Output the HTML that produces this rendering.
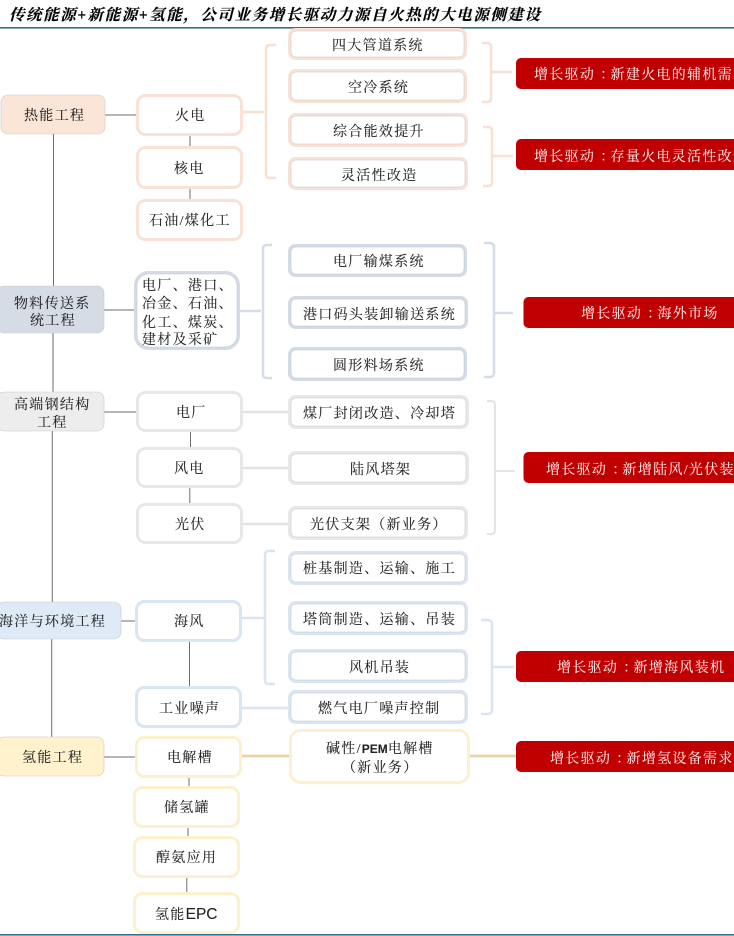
<!DOCTYPE html>
<html lang="zh">
<head>
<meta charset="utf-8">
<title>传统能源+新能源+氢能</title>
<style>
html,body{margin:0;padding:0;background:#fff;width:734px;height:936px;overflow:hidden}
svg{display:block;filter:blur(.35px)}
text{font-family:"Liberation Serif","Noto Serif CJK SC",serif;font-size:14px;letter-spacing:1.3px;fill:#222;stroke:#333;stroke-width:.12px}
.t{font-family:"Liberation Serif","Noto Serif CJK SC",serif;font-size:15.5px;font-weight:700;font-style:italic;fill:#000;stroke:#000;stroke-width:.15px;letter-spacing:0}
.r text{fill:#fbeaea;stroke:#fbeaea;stroke-width:.08px}
.e{font-family:"Liberation Sans",sans-serif;font-size:15.5px;letter-spacing:0}
.b rect{fill:#fff;stroke-width:3}
.in rect{fill:none;stroke:#c4c4c4;stroke-width:.5}
.br path{fill:none}
</style>
</head>
<body>
<svg width="734" height="936" viewBox="0 0 734 936" xmlns="http://www.w3.org/2000/svg">
<text class="t" x="9" y="20" textLength="531" lengthAdjust="spacing">传统能源+新能源+氢能，公司业务增长驱动力源自火热的大电源侧建设</text>
<rect x="0" y="27" width="734" height="1.6" fill="#2f6f8f"/>
<rect x="0" y="934" width="734" height="1.6" fill="#2f6f8f"/>

<!-- dark connectors -->
<g stroke="#6e6e6e" stroke-width="1" fill="none">
<path d="M53.500 134V286M53 333V392M52.300 431V602M51.700 639V737"/>
<path d="M105 115H136M104 310H135M104 412H137M121 621H136M104 757H136"/>
<path d="M190 136V147M190 189V200M190.500 432V447M189.800 488V503M189.500 642V687M189 778V787M188 828V837M186.800 878V893"/>
</g>

<!-- light connectors -->
<g fill="none" stroke-width="2.500">
<path stroke="#f8e0d2" d="M243 112H264"/>
<path stroke="#d6dde8" d="M240 311H261"/>
<path stroke="#e4e4e4" d="M243 412H288M243 468H288M243 524H288"/>
<path stroke="#d9e5f2" d="M242 618H264M242 708H288"/>
</g>
<path d="M242 756H289M470 756H516" stroke="#f5e2b0" stroke-width="3" fill="none"/>
<path d="M242 756H289M470 756H516" stroke="#b9a98a" stroke-width=".5" fill="none"/>

<!-- braces -->
<g class="br">
<g stroke="#f8e0d2" stroke-width="2.500">
<path d="M276 45H270Q266 45 266 49V174Q266 178 270 178H276"/>
<path d="M482 43H487Q491 43 491 47V98Q491 102 487 102H482M491 72H512"/>
<path d="M483 127H488Q492 127 492 131V182Q492 186 488 186H483M492 156H513"/>
</g>
<g stroke="#d6dde8" stroke-width="2.500">
<path d="M272 245H267Q263 245 263 249V374Q263 378 267 378H272"/>
<path d="M484 243H489Q494 243 494 247V373Q494 377 489 377H484M494 313H513"/>
</g>
<g stroke="#e4e4e4" stroke-width="2">
<path d="M487 401H491Q495 401 495 405V530Q495 534 491 534H487M495 471H515"/>
</g>
<g stroke="#d9e5f2" stroke-width="2.500">
<path d="M275 551H269Q265 551 265 555V680Q265 684 269 684H275"/>
<path d="M481 620H487Q492 620 492 624V710Q492 714 487 714H481M492 667H514"/>
</g>
</g>

<!-- level-1 boxes -->
<g stroke="#c9c9c9" stroke-width=".6">
<rect x="1" y="95" width="104" height="39" rx="7" fill="#fbe5d6"/>
<rect x="-3" y="286" width="107" height="47" rx="7" fill="#d6dce5"/>
<rect x="-3" y="392" width="107" height="39" rx="7" fill="#ededed"/>
<rect x="-3" y="602" width="124" height="37" rx="7" fill="#deebf7"/>
<rect x="-3" y="737" width="107" height="39" rx="7" fill="#fff2cc"/>
</g>

<!-- orange -->
<g class="b" stroke="#f9e2d5">
<rect x="137.500" y="95.500" width="104" height="39" rx="8"/>
<rect x="137.500" y="147.500" width="104" height="40" rx="8"/>
<rect x="137.500" y="200.500" width="104" height="39" rx="8"/>
<rect x="289.500" y="29.500" width="176" height="29" rx="6"/>
<rect x="289.500" y="70.500" width="176" height="31" rx="6"/>
<rect x="289.500" y="114.500" width="177" height="31" rx="6"/>
<rect x="289.500" y="158.500" width="177" height="30" rx="6"/>
</g>
<!-- blue-grey -->
<g class="b" stroke="#d3dbe6">
<rect x="135.500" y="272.500" width="103" height="76" rx="13"/>
<rect x="289.500" y="245.500" width="176" height="30" rx="6"/>
<rect x="289.500" y="297.500" width="177" height="30" rx="6"/>
<rect x="289.500" y="348.500" width="176" height="31" rx="6"/>
</g>
<!-- grey -->
<g class="b" stroke="#e8e8e8">
<rect x="137.500" y="392.500" width="104" height="38" rx="8"/>
<rect x="137.500" y="448.500" width="104" height="38" rx="8"/>
<rect x="137.500" y="504.500" width="104" height="38" rx="8"/>
<rect x="289.500" y="396.500" width="178" height="31" rx="6"/>
<rect x="289.500" y="452.500" width="178" height="31" rx="6"/>
<rect x="289.500" y="507.500" width="177" height="31" rx="6"/>
</g>
<!-- blue -->
<g class="b" stroke="#d9e5f2">
<rect x="136.500" y="601.500" width="104" height="39" rx="8"/>
<rect x="136.500" y="687.500" width="104" height="39" rx="8"/>
<rect x="289.500" y="552.500" width="177" height="31" rx="6"/>
<rect x="289.500" y="602.500" width="177" height="31" rx="6"/>
<rect x="289.500" y="650.500" width="177" height="31" rx="6"/>
<rect x="289.500" y="691.500" width="177" height="31" rx="6"/>
</g>
<!-- yellow -->
<g class="b" stroke="#fdf0cf">
<rect x="136.500" y="737.500" width="104" height="39" rx="8"/>
<rect x="134.500" y="787.500" width="104" height="39" rx="8"/>
<rect x="134.500" y="837.500" width="104" height="39" rx="8"/>
<rect x="134.500" y="893.500" width="104" height="39" rx="8"/>
<rect x="290.500" y="730.500" width="178" height="52" rx="10"/>
</g>

<!-- thin inner outlines on the second-column and detail boxes -->
<g class="in">
<rect x="291" y="31" width="173" height="26" rx="5"/>
<rect x="291" y="72" width="173" height="28" rx="5"/>
<rect x="291" y="116" width="174" height="28" rx="5"/>
<rect x="291" y="160" width="174" height="27" rx="5"/>
<rect x="137" y="274" width="100" height="73" rx="12"/>
<rect x="291" y="247" width="173" height="27" rx="5"/>
<rect x="291" y="299" width="174" height="27" rx="5"/>
<rect x="291" y="350" width="173" height="28" rx="5"/>
<rect x="291" y="398" width="175" height="28" rx="5"/>
<rect x="291" y="454" width="175" height="28" rx="5"/>
<rect x="291" y="509" width="174" height="28" rx="5"/>
<rect x="291" y="554" width="174" height="28" rx="5"/>
<rect x="291" y="604" width="174" height="28" rx="5"/>
<rect x="291" y="652" width="174" height="28" rx="5"/>
<rect x="291" y="693" width="174" height="28" rx="5"/>
</g>

<!-- red -->
<g fill="#c00000">
<rect x="516" y="58" width="230" height="31" rx="5"/>
<rect x="516" y="139" width="230" height="31" rx="5"/>
<rect x="523.500" y="297" width="230" height="31" rx="5"/>
<rect x="523.500" y="452" width="230" height="31" rx="5"/>
<rect x="516" y="651" width="230" height="31" rx="5"/>
<rect x="516" y="741" width="230" height="31" rx="5"/>
</g>

<!-- labels -->
<text x="24" y="120">热能工程</text>
<text x="14" y="308">物料传送系</text>
<text x="30" y="325">统工程</text>
<text x="14" y="409">高端钢结构</text>
<text x="37" y="427">工程</text>
<text x="-1" y="626">海洋与环境工程</text>
<text x="22" y="762">氢能工程</text>

<text x="175" y="120">火电</text>
<text x="174" y="173">核电</text>
<text x="149" y="225">石油/煤化工</text>
<text x="142" y="290">电厂、港口、</text>
<text x="142" y="308">冶金、石油、</text>
<text x="142" y="327">化工、煤炭、</text>
<text x="142" y="344">建材及采矿</text>
<text x="176" y="417">电厂</text>
<text x="174" y="473">风电</text>
<text x="175" y="529">光伏</text>
<text x="174" y="626">海风</text>
<text x="159" y="713">工业噪声</text>
<text x="167" y="762">电解槽</text>
<text x="164" y="812">储氢罐</text>
<text x="156" y="862">醇氨应用</text>
<text x="155" y="919">氢能<tspan class="e">EPC</tspan></text>

<text x="332" y="50">四大管道系统</text>
<text x="348" y="92">空冷系统</text>
<text x="333" y="136">综合能效提升</text>
<text x="341" y="180">灵活性改造</text>
<text x="333" y="266">电厂输煤系统</text>
<text x="303" y="319">港口码头装卸输送系统</text>
<text x="333" y="370">圆形料场系统</text>
<text x="303" y="418">煤厂封闭改造、冷却塔</text>
<text x="350" y="474">陆风塔架</text>
<text x="310" y="529">光伏支架（新业务）</text>
<text x="303" y="573">桩基制造、运输、施工</text>
<text x="303" y="624">塔筒制造、运输、吊装</text>
<text x="349" y="672">风机吊装</text>
<text x="318" y="713">燃气电厂噪声控制</text>
<text x="326" y="753">碱性/<tspan class="e" style="font-size:12px;font-weight:700">PEM</tspan>电解槽</text>
<text x="342" y="772">（新业务）</text>

<g class="r">
<text x="534" y="79">增长驱动<tspan dx="5">：</tspan><tspan dx="-5">新建火电的辅机需求</tspan></text>
<text x="534" y="161">增长驱动<tspan dx="5">：</tspan><tspan dx="-5">存量火电灵活性改造</tspan></text>
<text x="581" y="318">增长驱动<tspan dx="5">：</tspan><tspan dx="-5">海外市场</tspan></text>
<text x="546" y="474">增长驱动<tspan dx="5">：</tspan><tspan dx="-5">新增陆风/光伏装机</tspan></text>
<text x="557" y="672">增长驱动<tspan dx="5">：</tspan><tspan dx="-5">新增海风装机</tspan></text>
<text x="550" y="763">增长驱动<tspan dx="5">：</tspan><tspan dx="-5">新增氢设备需求</tspan></text>
</g>
</svg>
</body>
</html>
